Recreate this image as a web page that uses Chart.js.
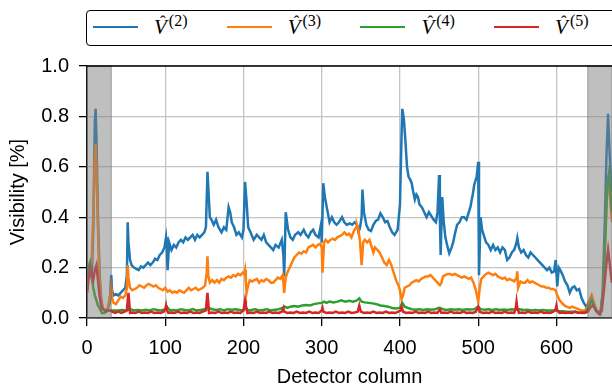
<!DOCTYPE html>
<html>
<head>
<meta charset="utf-8">
<script src="https://cdn.jsdelivr.net/npm/chart.js@4"></script>
<style>
  body { margin: 0; background: #fff; }
  #wrap { position: relative; width: 612px; height: 389px; overflow: hidden; }
  #legend {
    position: absolute; left: 86px; top: 10px; width: 560px; height: 34px;
    border: 1.5px solid #000; border-radius: 4px; background: #fff;
  }
  .item { position: absolute; top: 0; height: 34px; }
  .swatch { position: absolute; left: 0; top: 14.5px; width: 45px; height: 2.5px; }
  .lab { position: absolute; left: 61px; top: 4px; font-family: "Liberation Serif", serif; white-space: nowrap; }
  .v { position: relative; font-style: italic; font-size: 21px; }
  .hat { position: absolute; left: 6px; top: -3px; font-style: normal; font-size: 17px; }
  .sup { position: relative; top: -8px; font-size: 16px; margin-left: 2px; }
</style>
</head>
<body>
<div id="wrap">
  <canvas id="chart" width="612" height="389"></canvas>
  <div id="legend"></div>
</div>
<script>
// series: [detector column, visibility]
const v2 = [[0,0.12],[3,0.20],[6,0.16],[8,0.35],[10,0.78],[11,0.83],[12,0.72],[14,0.40],[16,0.18],[18,0.08],[20,0.04],[23,0.03],[26,0.03],[29,0.06],[31,0.17],[32,0.11],[34,0.09],[37,0.095],[40,0.09],[43,0.10],[46,0.11],[49,0.12],[51,0.17],[52,0.38],[53,0.30],[55,0.23],[57,0.21],[60,0.20],[63,0.195],[66,0.19],[69,0.205],[72,0.20],[75,0.21],[78,0.22],[81,0.21],[84,0.22],[87,0.235],[90,0.23],[93,0.25],[96,0.26],[99,0.28],[101,0.32],[102,0.28],[103,0.19],[105,0.30],[108,0.27],[111,0.29],[114,0.28],[117,0.30],[120,0.31],[123,0.30],[126,0.32],[129,0.31],[132,0.32],[135,0.33],[138,0.31],[141,0.33],[144,0.32],[147,0.33],[150,0.34],[152,0.36],[154,0.58],[155,0.52],[157,0.40],[159,0.39],[162,0.37],[165,0.39],[168,0.36],[172,0.34],[175,0.36],[178,0.35],[181,0.44],[183,0.42],[185,0.38],[188,0.36],[191,0.33],[194,0.34],[198,0.32],[200,0.35],[202,0.54],[204,0.46],[206,0.36],[209,0.34],[213,0.31],[217,0.33],[220,0.32],[223,0.31],[226,0.33],[229,0.30],[232,0.29],[235,0.28],[238,0.27],[241,0.29],[245,0.28],[249,0.31],[251,0.25],[252,0.165],[254,0.42],[257,0.35],[260,0.32],[263,0.31],[266,0.33],[270,0.34],[273,0.33],[277,0.35],[280,0.33],[283,0.32],[286,0.34],[289,0.35],[292,0.33],[296,0.32],[299,0.37],[300,0.30],[302,0.535],[304,0.48],[307,0.43],[310,0.38],[313,0.40],[316,0.38],[319,0.37],[322,0.38],[326,0.40],[329,0.38],[332,0.37],[336,0.375],[339,0.37],[342,0.38],[345,0.37],[347,0.34],[349,0.36],[351,0.40],[352,0.51],[354,0.42],[357,0.37],[360,0.35],[363,0.345],[366,0.37],[369,0.385],[372,0.39],[375,0.415],[378,0.40],[381,0.38],[384,0.385],[387,0.36],[390,0.34],[393,0.33],[397,0.35],[400,0.45],[402,0.72],[403,0.83],[405,0.79],[407,0.70],[409,0.60],[411,0.56],[413,0.55],[415,0.535],[417,0.50],[419,0.47],[421,0.49],[423,0.48],[425,0.45],[428,0.44],[431,0.42],[434,0.40],[437,0.42],[440,0.405],[443,0.39],[446,0.38],[448,0.42],[450,0.567],[451,0.40],[452,0.25],[454,0.48],[456,0.38],[458,0.32],[461,0.28],[463,0.257],[466,0.28],[468,0.30],[470,0.33],[473,0.37],[476,0.38],[479,0.40],[482,0.40],[485,0.39],[488,0.42],[490,0.44],[493,0.49],[495,0.53],[498,0.56],[500,0.62],[501,0.17],[503,0.40],[505,0.35],[507,0.33],[510,0.30],[513,0.29],[516,0.27],[519,0.29],[522,0.27],[525,0.28],[528,0.26],[531,0.28],[534,0.27],[537,0.23],[540,0.24],[543,0.26],[546,0.27],[549,0.30],[550,0.317],[552,0.28],[555,0.26],[558,0.27],[561,0.25],[564,0.24],[567,0.26],[570,0.25],[573,0.24],[576,0.23],[579,0.22],[582,0.21],[585,0.20],[588,0.19],[591,0.20],[594,0.18],[597,0.185],[599,0.23],[601,0.125],[603,0.20],[605,0.19],[608,0.17],[611,0.145],[614,0.13],[617,0.10],[620,0.12],[623,0.125],[626,0.11],[629,0.115],[632,0.08],[635,0.06],[638,0.045],[641,0.06],[644,0.08],[647,0.06],[650,0.03],[653,0.02],[656,0.015],[659,0.10],[662,0.40],[664,0.65],[666,0.81],[668,0.65],[670,0.52],[671,0.50]];

const v3 = [[0,0.10],[3,0.18],[6,0.22],[8,0.40],[10,0.64],[11,0.69],[12,0.60],[14,0.35],[16,0.15],[18,0.07],[20,0.04],[23,0.03],[26,0.035],[29,0.08],[31,0.12],[32,0.08],[34,0.06],[37,0.055],[40,0.07],[43,0.085],[46,0.08],[49,0.09],[51,0.12],[52,0.21],[53,0.16],[55,0.12],[58,0.11],[61,0.115],[64,0.12],[67,0.13],[70,0.125],[73,0.12],[76,0.13],[79,0.135],[82,0.13],[85,0.125],[88,0.13],[91,0.12],[94,0.115],[97,0.11],[100,0.12],[103,0.105],[106,0.11],[109,0.10],[112,0.105],[115,0.10],[118,0.11],[121,0.105],[124,0.10],[127,0.11],[130,0.12],[133,0.11],[136,0.115],[139,0.12],[142,0.11],[145,0.115],[148,0.12],[151,0.13],[153,0.18],[154,0.245],[155,0.17],[157,0.14],[160,0.15],[163,0.14],[166,0.15],[169,0.14],[172,0.155],[175,0.15],[178,0.16],[181,0.165],[184,0.16],[187,0.17],[190,0.165],[193,0.175],[196,0.17],[199,0.18],[201,0.175],[202,0.19],[203,0.14],[204,0.10],[206,0.13],[208,0.15],[211,0.145],[214,0.15],[217,0.155],[220,0.14],[223,0.15],[226,0.145],[229,0.155],[232,0.15],[235,0.14],[238,0.14],[241,0.15],[244,0.16],[247,0.155],[250,0.17],[251,0.14],[252,0.10],[254,0.16],[256,0.18],[259,0.20],[262,0.22],[265,0.24],[268,0.25],[271,0.26],[274,0.255],[277,0.265],[280,0.26],[283,0.28],[286,0.285],[289,0.29],[292,0.28],[295,0.29],[298,0.295],[300,0.28],[301,0.18],[303,0.30],[305,0.31],[308,0.30],[311,0.31],[314,0.315],[317,0.31],[320,0.32],[323,0.325],[326,0.33],[329,0.34],[332,0.33],[335,0.335],[338,0.32],[341,0.345],[344,0.36],[345,0.37],[347,0.35],[349,0.30],[351,0.21],[353,0.30],[355,0.31],[358,0.30],[361,0.31],[364,0.28],[366,0.26],[368,0.28],[371,0.27],[374,0.26],[377,0.24],[380,0.22],[383,0.21],[386,0.23],[389,0.21],[392,0.18],[395,0.15],[398,0.13],[400,0.11],[402,0.075],[404,0.09],[406,0.12],[409,0.125],[412,0.13],[415,0.14],[418,0.145],[421,0.15],[424,0.145],[427,0.155],[430,0.16],[433,0.165],[436,0.165],[439,0.17],[442,0.16],[445,0.15],[448,0.14],[451,0.13],[453,0.14],[455,0.165],[458,0.17],[461,0.175],[464,0.175],[467,0.17],[470,0.175],[473,0.17],[476,0.165],[479,0.16],[482,0.165],[485,0.16],[488,0.155],[491,0.16],[494,0.14],[497,0.11],[499,0.08],[500,0.065],[502,0.12],[504,0.155],[507,0.165],[510,0.175],[513,0.18],[516,0.175],[519,0.17],[522,0.175],[525,0.165],[528,0.16],[531,0.155],[534,0.16],[537,0.15],[540,0.155],[543,0.15],[546,0.145],[549,0.16],[550,0.185],[551,0.12],[554,0.145],[557,0.14],[560,0.14],[563,0.15],[566,0.14],[569,0.145],[572,0.14],[575,0.135],[578,0.13],[581,0.125],[584,0.125],[587,0.12],[590,0.12],[593,0.115],[596,0.115],[599,0.11],[601,0.09],[604,0.07],[607,0.06],[610,0.05],[613,0.045],[617,0.04],[620,0.045],[624,0.04],[628,0.035],[632,0.03],[636,0.03],[639,0.04],[642,0.07],[645,0.09],[648,0.06],[651,0.03],[654,0.02],[657,0.03],[660,0.12],[663,0.35],[665,0.52],[667,0.57],[669,0.45],[671,0.38]];

const v4 = [[0,0.18],[2,0.20],[4,0.22],[6,0.17],[8,0.12],[10,0.09],[12,0.07],[14,0.05],[16,0.04],[19,0.02],[22,0.02],[25,0.025],[28,0.03],[31,0.03],[35,0.03],[40,0.03],[45,0.032],[50,0.03],[55,0.035],[60,0.03],[65,0.032],[70,0.03],[75,0.033],[80,0.03],[85,0.035],[90,0.032],[95,0.03],[100,0.035],[103,0.04],[106,0.03],[110,0.032],[115,0.03],[120,0.035],[125,0.032],[130,0.03],[135,0.035],[140,0.03],[145,0.032],[150,0.035],[155,0.04],[160,0.035],[165,0.032],[170,0.035],[175,0.03],[180,0.035],[185,0.033],[190,0.035],[195,0.032],[200,0.03],[203,0.04],[206,0.03],[210,0.032],[215,0.035],[220,0.03],[225,0.032],[230,0.035],[235,0.03],[240,0.033],[245,0.035],[250,0.04],[253,0.045],[256,0.04],[260,0.045],[265,0.048],[270,0.045],[275,0.05],[280,0.052],[285,0.05],[290,0.055],[295,0.058],[300,0.06],[303,0.065],[306,0.06],[310,0.065],[315,0.062],[320,0.065],[325,0.07],[330,0.065],[335,0.068],[340,0.065],[345,0.07],[348,0.078],[351,0.065],[355,0.062],[360,0.06],[365,0.058],[370,0.055],[375,0.05],[380,0.048],[385,0.045],[390,0.04],[395,0.038],[400,0.04],[403,0.06],[406,0.045],[410,0.04],[415,0.035],[420,0.033],[425,0.035],[430,0.032],[435,0.035],[440,0.033],[445,0.035],[450,0.04],[455,0.035],[460,0.032],[465,0.035],[470,0.033],[475,0.035],[480,0.032],[485,0.035],[490,0.034],[495,0.035],[500,0.045],[503,0.035],[508,0.033],[513,0.035],[518,0.032],[523,0.035],[528,0.032],[533,0.034],[538,0.032],[543,0.035],[548,0.033],[553,0.035],[558,0.032],[563,0.033],[568,0.03],[573,0.032],[578,0.03],[583,0.032],[588,0.03],[593,0.03],[598,0.03],[603,0.028],[608,0.027],[613,0.025],[618,0.025],[623,0.025],[628,0.022],[633,0.02],[638,0.025],[642,0.05],[645,0.07],[648,0.05],[651,0.03],[654,0.02],[657,0.03],[660,0.12],[663,0.38],[665,0.52],[667,0.57],[669,0.50],[671,0.42]];

const v5 = [[0,0.10],[2,0.16],[4,0.20],[6,0.17],[8,0.15],[10,0.19],[12,0.21],[14,0.15],[16,0.09],[18,0.05],[20,0.035],[23,0.03],[26,0.03],[29,0.03],[32,0.025],[36,0.02],[40,0.025],[44,0.02],[48,0.025],[51,0.03],[52,0.07],[53,0.10],[54,0.06],[55,0.02],[58,0.022],[62,0.02],[66,0.025],[70,0.02],[74,0.022],[78,0.02],[82,0.025],[86,0.02],[90,0.022],[94,0.02],[98,0.025],[100,0.035],[101,0.05],[102,0.03],[104,0.02],[108,0.022],[112,0.02],[116,0.025],[120,0.02],[124,0.022],[128,0.02],[132,0.025],[136,0.02],[140,0.022],[144,0.02],[148,0.025],[152,0.03],[153,0.07],[154,0.10],[155,0.06],[156,0.02],[160,0.022],[164,0.02],[168,0.025],[172,0.02],[176,0.022],[180,0.02],[184,0.025],[188,0.02],[192,0.022],[196,0.02],[200,0.03],[202,0.07],[203,0.05],[205,0.02],[209,0.022],[213,0.02],[217,0.025],[221,0.02],[225,0.022],[229,0.02],[233,0.025],[237,0.02],[241,0.022],[245,0.02],[249,0.025],[251,0.04],[252,0.025],[256,0.02],[260,0.022],[264,0.02],[268,0.025],[272,0.02],[276,0.022],[280,0.02],[284,0.025],[288,0.02],[292,0.022],[296,0.02],[300,0.03],[301,0.04],[302,0.025],[306,0.02],[310,0.022],[314,0.02],[318,0.025],[322,0.02],[326,0.022],[330,0.02],[334,0.025],[338,0.02],[342,0.022],[346,0.025],[348,0.05],[350,0.025],[354,0.02],[358,0.022],[362,0.02],[366,0.025],[370,0.02],[374,0.022],[378,0.02],[382,0.025],[386,0.02],[390,0.022],[394,0.02],[398,0.025],[401,0.03],[402,0.045],[404,0.025],[408,0.02],[412,0.022],[416,0.02],[420,0.025],[424,0.02],[428,0.022],[432,0.02],[436,0.025],[440,0.02],[444,0.022],[448,0.02],[451,0.035],[453,0.02],[457,0.022],[461,0.02],[465,0.025],[469,0.02],[473,0.022],[477,0.02],[481,0.025],[485,0.02],[489,0.022],[493,0.02],[497,0.025],[500,0.045],[502,0.025],[506,0.02],[510,0.022],[514,0.02],[518,0.025],[522,0.02],[526,0.022],[530,0.02],[534,0.025],[538,0.02],[542,0.022],[546,0.02],[548,0.04],[549,0.065],[550,0.04],[552,0.02],[556,0.022],[560,0.02],[564,0.025],[568,0.02],[572,0.022],[576,0.02],[580,0.025],[584,0.02],[588,0.022],[592,0.02],[596,0.025],[599,0.035],[600,0.05],[601,0.03],[604,0.02],[608,0.022],[612,0.02],[616,0.022],[620,0.02],[624,0.025],[628,0.02],[632,0.022],[636,0.02],[640,0.025],[643,0.04],[646,0.05],[649,0.04],[652,0.025],[655,0.015],[658,0.03],[661,0.12],[664,0.22],[666,0.27],[668,0.22],[670,0.16],[671,0.14]];

const seriesNames = ['2', '3', '4', '5'];
const seriesColors = ['#1f77b4', '#ff7f0e', '#2ca02c', '#d62728'];
const maskedRanges = [[0, 31], [640, 671]];
const xTicksStep = 100;
const yTicks = [0, 0.2, 0.4, 0.6, 0.8, 1.0];

const font = { family: 'Liberation Sans, Arial, sans-serif', size: 20 };

// legend in html so the math labels look right
const legend = document.getElementById('legend');
seriesNames.forEach((n, i) => {
  const item = document.createElement('div');
  item.className = 'item';
  item.style.left = (6 + i * 133.7) + 'px';
  item.innerHTML = '<span class="swatch" style="background:' + seriesColors[i] + '"></span>' +
    '<span class="lab"><span class="v">V<span class="hat">ˆ</span></span><span class="sup">(' + n + ')</span></span>';
  legend.appendChild(item);
});

const spansPlugin = {
  id: 'spans',
  afterDatasetsDraw(chart) {
    const { ctx, chartArea, scales: { x } } = chart;
    ctx.save();
    maskedRanges.forEach(([a, b]) => {
      const x0 = x.getPixelForValue(a);
      const x1 = x.getPixelForValue(b);
      ctx.fillStyle = 'rgba(128,128,128,0.5)';
      ctx.fillRect(x0, chartArea.top, x1 - x0, chartArea.bottom - chartArea.top);
      ctx.strokeStyle = 'rgba(90,90,90,0.5)';
      ctx.lineWidth = 1;
      ctx.strokeRect(x0, chartArea.top, x1 - x0, chartArea.bottom - chartArea.top);
    });
    ctx.restore();
  },
  afterDraw(chart) {
    const { ctx, chartArea } = chart;
    ctx.save();
    ctx.strokeStyle = '#000';
    ctx.lineWidth = 1.5;
    ctx.beginPath();
    ctx.moveTo(chartArea.left, chartArea.top);
    ctx.lineTo(chartArea.right, chartArea.top);
    ctx.stroke();
    ctx.restore();
  }
};

const toPoints = arr => arr.map(([c, v]) => ({ x: c, y: v }));
const allSeries = [v2, v3, v4, v5];

new Chart(document.getElementById('chart'), {
  type: 'line',
  data: {
    datasets: allSeries.map((s, i) => ({
      label: 'V(' + seriesNames[i] + ')',
      data: toPoints(s),
      borderColor: seriesColors[i],
      backgroundColor: seriesColors[i],
      borderWidth: 2.5,
      pointRadius: 0,
      tension: 0,
      order: 4 - i,
    })),
  },
  options: {
    responsive: false,
    animation: false,
    layout: { padding: { top: 66, right: 0, left: 0, bottom: 0 } },
    plugins: { legend: { display: false }, tooltip: { enabled: false } },
    scales: {
      x: {
        type: 'linear',
        min: 0,
        max: 671,
        ticks: { stepSize: xTicksStep, includeBounds: false, font, color: '#000', padding: 10, maxRotation: 0 },
        grid: { color: '#c4c4c4', lineWidth: 1.3, tickLength: 8, tickColor: '#000', tickWidth: 1.3 },
        border: { color: '#000', width: 1.5 },
        title: { display: true, text: 'Detector column', font, color: '#000', padding: { top: 0, bottom: 0 } },
        afterFit: s => { s.height = 71; },
      },
      y: {
        min: 0,
        max: 1,
        afterBuildTicks: s => { s.ticks = yTicks.map(v => ({ value: v })); },
        ticks: { font, color: '#000', padding: 10, callback: v => v.toFixed(1) },
        grid: { color: '#c4c4c4', lineWidth: 1.3, tickLength: 8, tickColor: '#000', tickWidth: 1.3 },
        border: { color: '#000', width: 1.5 },
        title: { display: true, text: 'Visibility [%]', font, color: '#000', padding: { top: 6, bottom: 0 } },
        afterFit: s => { s.width = 87; },
      },
    },
  },
  plugins: [spansPlugin],
});
</script>
</body>
</html>
